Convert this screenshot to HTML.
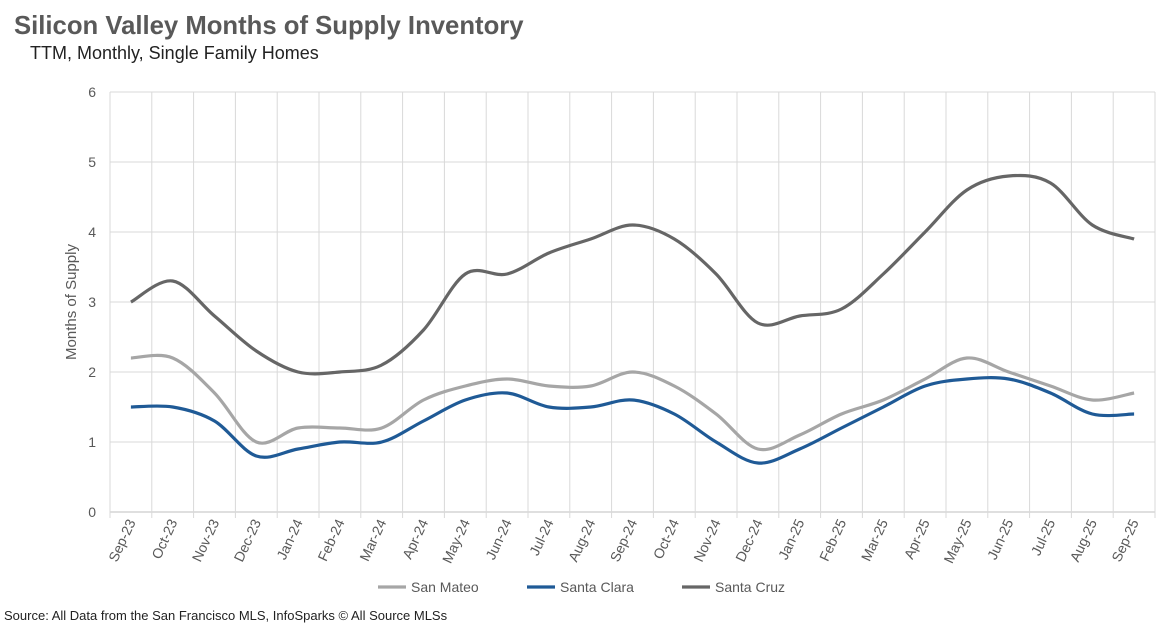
<!DOCTYPE html>
<html><head><meta charset="utf-8"><style>
body{margin:0;background:#fff;width:1168px;height:628px;overflow:hidden;font-family:"Liberation Sans",sans-serif}
</style></head><body>
<svg id="chart" width="1168" height="628" style="position:absolute;left:0;top:0">
<text x="14" y="34" font-size="25.7" font-weight="bold" fill="#595959">Silicon Valley Months of Supply Inventory</text>
<text x="30" y="59" font-size="18" fill="#222">TTM, Monthly, Single Family Homes</text>
<text transform="translate(76,302) rotate(-90)" text-anchor="middle" font-size="15" fill="#595959">Months of Supply</text>
<text x="4" y="620" font-size="13" fill="#222">Source: All Data from the San Francisco MLS, InfoSparks © All Source MLSs</text>
<g id="grid"></g><g id="lines"></g><g id="axes"></g><g id="legend"></g>
</svg>
<script>
const categories=["Sep-23","Oct-23","Nov-23","Dec-23","Jan-24","Feb-24","Mar-24","Apr-24","May-24","Jun-24","Jul-24","Aug-24","Sep-24","Oct-24","Nov-24","Dec-24","Jan-25","Feb-25","Mar-25","Apr-25","May-25","Jun-25","Jul-25","Aug-25","Sep-25"];
const sanMateo=[2.2,2.2,1.7,1.0,1.2,1.2,1.2,1.6,1.8,1.9,1.8,1.8,2.0,1.8,1.4,0.9,1.1,1.4,1.6,1.9,2.2,2.0,1.8,1.6,1.7];
const santaClara=[1.5,1.5,1.3,0.8,0.9,1.0,1.0,1.3,1.6,1.7,1.5,1.5,1.6,1.4,1.0,0.7,0.9,1.2,1.5,1.8,1.9,1.9,1.7,1.4,1.4];
const santaCruz=[3.0,3.3,2.8,2.3,2.0,2.0,2.1,2.6,3.4,3.4,3.7,3.9,4.1,3.9,3.4,2.7,2.8,2.9,3.4,4.0,4.6,4.8,4.7,4.1,3.9];
const yTicks=[0,1,2,3,4,5,6];
const seriesNames=["San Mateo","Santa Clara","Santa Cruz"];
const seriesColors=["#a6a6a6","#1f5a96","#666666"];

const NS="http://www.w3.org/2000/svg";
const L=110,R=1155,T=92,B=512,yMax=6;
const step=(R-L)/categories.length;
const x=i=>L+step*(i+0.5);
const y=v=>B-(v/yMax)*(B-T);
function mk(tag,attrs,parent){const e=document.createElementNS(NS,tag);for(const k in attrs)e.setAttribute(k,attrs[k]);parent.appendChild(e);return e;}
const grid=document.getElementById('grid'),axes=document.getElementById('axes'),lines=document.getElementById('lines'),legend=document.getElementById('legend');
yTicks.forEach(t=>{
 const g=mk('line',{x1:L,x2:R,y1:y(t),y2:y(t),stroke:t===0?'#bfbfbf':'#d9d9d9','stroke-width':1},grid);
 
 
 const tx=mk('text',{x:96,y:y(t)+5,'text-anchor':'end','font-size':14,fill:'#595959'},axes);
 tx.textContent=t;
 
 
});
for(let i=0;i<=categories.length;i++){
 const g=mk('line',{x1:L+step*i,x2:L+step*i,y1:T,y2:B+6,stroke:'#d9d9d9','stroke-width':1},grid);
 
 
}
categories.forEach((c,i)=>{
 const tx=mk('text',{transform:`translate(${x(i)+5},${B+10}) rotate(-65)`,'text-anchor':'end','font-size':14,fill:'#595959'},axes);
 tx.textContent=c;
 
 
});
function smooth(vals){
 const p=vals.map((v,i)=>[x(i),y(v)]);let d=`M${p[0][0]},${p[0][1]}`;
 for(let i=0;i<p.length-1;i++){const p0=p[i-1]||p[i],p1=p[i],p2=p[i+1],p3=p[i+2]||p2;
  const c1=[p1[0]+(p2[0]-p0[0])/6,p1[1]+(p2[1]-p0[1])/6],c2=[p2[0]-(p3[0]-p1[0])/6,p2[1]-(p3[1]-p1[1])/6];
  d+=` C${c1[0]},${c1[1]} ${c2[0]},${c2[1]} ${p2[0]},${p2[1]}`;}
 return d;}
[sanMateo,santaClara,santaCruz].forEach((s,k)=>{
 const p=mk('path',{d:smooth(s),fill:'none',stroke:seriesColors[k],'stroke-width':3.2,'stroke-linejoin':'round'},lines);
 
 
});
const legX=[378,527,682];
seriesNames.forEach((n,k)=>{
 const g=mk('g',{},legend);
 
 
 mk('line',{x1:legX[k],x2:legX[k]+28,y1:587,y2:587,stroke:seriesColors[k],'stroke-width':3.2},g);
 const t=mk('text',{x:legX[k]+33,y:592,'font-size':14,fill:'#595959'},g);t.textContent=n;
});
</script>
</body></html>
